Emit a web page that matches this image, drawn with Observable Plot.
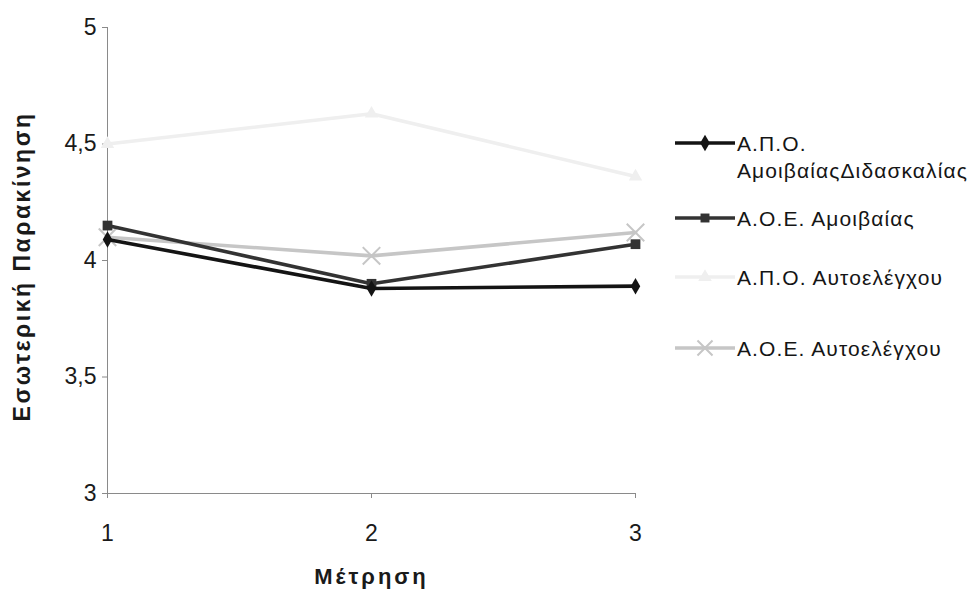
<!DOCTYPE html>
<html><head><meta charset="utf-8">
<script src="https://cdn.jsdelivr.net/npm/d3@7"></script>
<script src="https://cdn.jsdelivr.net/npm/@observablehq/plot@0.6"></script>
<style>
html,body{margin:0;padding:0;background:#fff;}
#wrap{position:relative;width:975px;height:595px;font-family:"Liberation Sans",Arial,sans-serif;}
#chart{position:absolute;left:0;top:0;}
.sw{position:absolute;left:673px;}
.lt{position:absolute;left:737px;font-size:21px;line-height:27px;color:#151515;letter-spacing:1.1px;white-space:nowrap;}
</style></head>
<body><div id="wrap"><div id="chart"></div><div id="legend"></div></div>
<script>
const measurements = [1, 2, 3];
const seriesNames = ["Α.Π.Ο. ΑμοιβαίαςΔιδασκαλίας", "Α.Ο.Ε. Αμοιβαίας", "Α.Π.Ο. Αυτοελέγχου", "Α.Ο.Ε. Αυτοελέγχου"];
const apoAmoivaias = [4.09, 3.88, 3.89];
const aoeAmoivaias = [4.15, 3.90, 4.07];
const apoAftoelegxou = [4.50, 4.63, 4.36];
const aoeAftoelegxou = [4.10, 4.02, 4.12];
const yTicks = [3, 3.5, 4, 4.5, 5];
const xTickLabels = ["1", "2", "3"];
const yTitle = "Εσωτερική Παρακίνηση";
const xTitle = "Μέτρηση";
const colors = ["#141414", "#333333", "#efefef", "#c6c6c6"];
const symbols = ["diamond", "square", "triangle", "times"];

const allSeries = [apoAmoivaias, aoeAmoivaias, apoAftoelegxou, aoeAftoelegxou];
const data = [];
allSeries.forEach((vals, i) => vals.forEach((v, j) => data.push({series: seriesNames[i], x: measurements[j], y: v})));
const order = [2, 3, 1, 0];
const marks = [];
for (const i of order) {
  const d = data.filter(r => r.series === seriesNames[i]);
  marks.push(Plot.line(d, {x: "x", y: "y", stroke: colors[i], strokeWidth: 3.6}));
  if (symbols[i] === "times") marks.push(Plot.dot(d, {x: "x", y: "y", symbol: "times", stroke: colors[i], strokeWidth: 2, r: 8}));
  else marks.push(Plot.dot(d, {x: "x", y: "y", symbol: symbols[i], fill: colors[i], r: symbols[i] === "square" ? 5.5 : 5}));
}
const fmt = d => String(d).replace(".", ",");

const plot = Plot.plot({
  width: 670, height: 595,
  marginLeft: 107, marginRight: 35, marginTop: 27, marginBottom: 102,
  style: {fontFamily: "Liberation Sans, Arial, sans-serif", background: "#fff"},
  x: {type: "linear", domain: [1, 3], axis: null},
  y: {type: "linear", domain: [3, 5], axis: null},
  marks: [
    Plot.ruleX([1], {x: d => d, y1: 3, y2: 5, stroke: "#8a8a8a", strokeWidth: 1}),
    Plot.ruleY([3], {y: d => d, x1: 1, x2: 3, stroke: "#8a8a8a", strokeWidth: 1}),
    Plot.ruleY(yTicks, {y: d => d, x1: 1, x2: 1, insetLeft: -5, stroke: "#8a8a8a"}),
    Plot.ruleX(measurements, {x: d => d, y1: 3, y2: 3, insetBottom: -5, stroke: "#8a8a8a"}),
    Plot.text(yTicks, {x: 1, y: d => d, text: fmt, dx: -11, textAnchor: "end", fontSize: 23, fill: "#1a1a1a"}),
    Plot.text(measurements, {x: d => d, y: 3, text: (d, i) => xTickLabels[i], dy: 40, fontSize: 23, fill: "#1a1a1a"}),
    ...marks,
    Plot.text([yTitle], {frameAnchor: "left", textAnchor: "middle", lineAnchor: "middle", dx: -85, dy: 6, rotate: -90, fontSize: 23, fontWeight: "bold", fill: "#1a1a1a"}),
    Plot.text([xTitle], {frameAnchor: "bottom", textAnchor: "middle", lineAnchor: "middle", dy: 83, fontSize: 22, fontWeight: "bold", fill: "#1a1a1a"})
  ]
});
document.getElementById("chart").appendChild(plot);
plot.querySelectorAll("text").forEach(t => {
  if (t.textContent === xTitle) t.setAttribute("letter-spacing", "3px");
  if (t.textContent === yTitle) t.setAttribute("letter-spacing", "2.5px");
});

const legendLineY = [143, 218, 277, 348];
const legend = document.getElementById("legend");
seriesNames.forEach((name, i) => {
  const y = legendLineY[i];
  const sw = d3.create("svg").attr("class", "sw").attr("width", 64).attr("height", 30).style("top", (y - 15) + "px");
  sw.append("line").attr("x1", 2).attr("x2", 62).attr("y1", 15).attr("y2", 15).attr("stroke", colors[i]).attr("stroke-width", 3.6);
  const sym = symbols[i] === "times" ? d3.symbolTimes : symbols[i] === "square" ? d3.symbolSquare : symbols[i] === "triangle" ? d3.symbolTriangle : d3.symbolDiamond;
  const p = sw.append("path").attr("transform", "translate(32,15)").attr("d", d3.symbol(sym, symbols[i] === "times" ? 150 : 80)());
  if (symbols[i] === "times") p.attr("fill", "none").attr("stroke", colors[i]).attr("stroke-width", 2);
  else p.attr("fill", colors[i]);
  legend.appendChild(sw.node());
  const t = document.createElement("div");
  t.className = "lt";
  t.style.top = (y - 13) + "px";
  t.innerHTML = i === 0 ? "Α.Π.Ο.<br>ΑμοιβαίαςΔιδασκαλίας" : name;
  legend.appendChild(t);
});
</script></body></html>
